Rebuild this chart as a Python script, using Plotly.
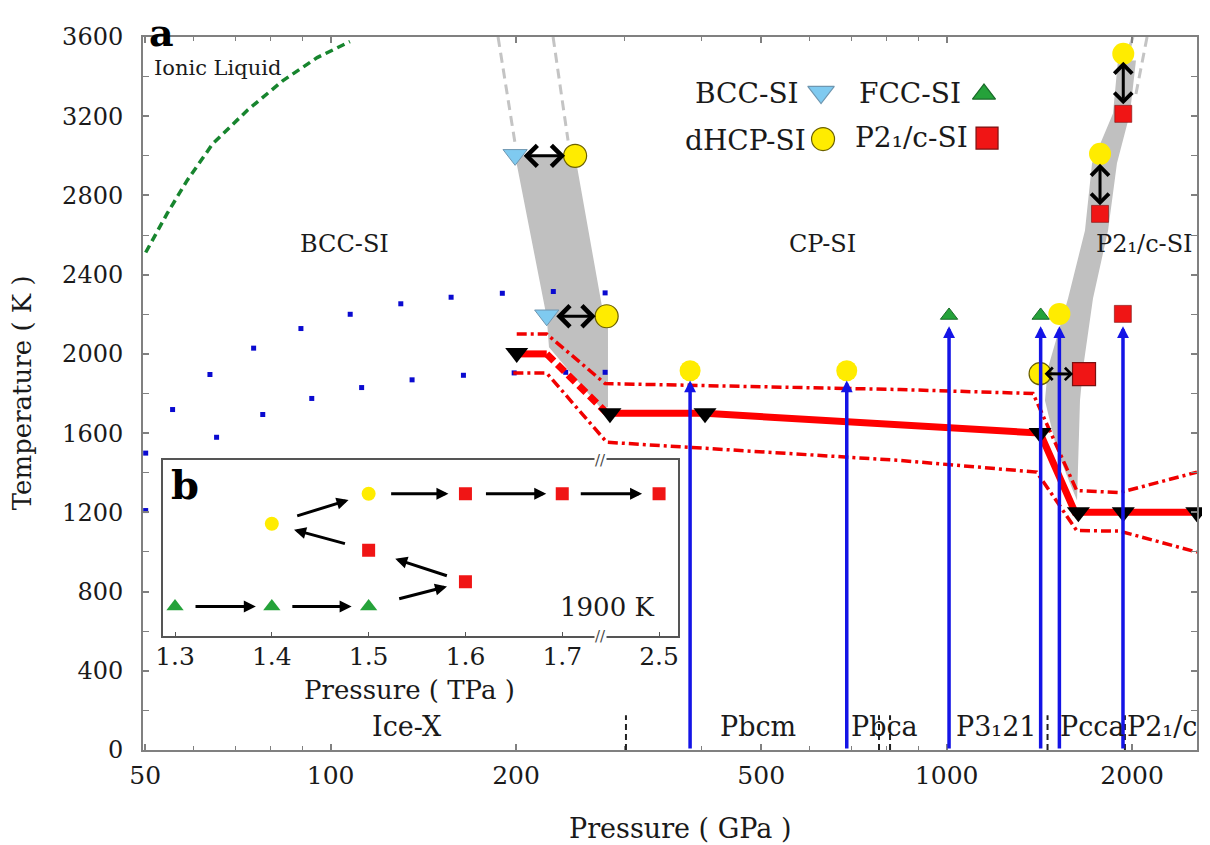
import numpy as np
import plotly.graph_objects as go

FONT = "DejaVu Serif"
TXT = "#1a1a1a"

# ---------------- panel (a) data : pressure (GPa), temperature (K) ----------------
liq_P = [50.1, 54.3, 58.5, 64.4, 73.2, 83.7, 95.1, 107.5]
liq_T = [2512, 2709, 2876, 3062, 3229, 3380, 3496, 3577]

dotsA_P = [50.1, 55.4, 63.7, 75.0, 89.5, 107.6, 130.0, 156.9, 190.0, 229.9, 279.0]
dotsA_T = [1499, 1719, 1896, 2029, 2128, 2200, 2253, 2286, 2306, 2315, 2308]
dotsB_P = [50.1, 65.3, 77.6, 93.2, 112.3, 135.6, 164.3, 198.6, 240.8, 279.0]
dotsB_T = [1209, 1579, 1694, 1775, 1830, 1869, 1892, 1904, 1907, 1907]

band1_P = [199.3, 249.4, 276.8, 282.0, 282.0, 273.7, 226.2, 224.3]
band1_T = [3000, 3000, 2210, 2185, 1731, 1731, 2034, 2185]
band2_P = [2029, 1984, 1890, 1828, 1728, 1665, 1646, 1634, 1628,
           1586, 1511, 1444, 1460, 1574, 1677, 1722, 1862, 1897]
band2_T = [3481, 3214, 2962, 2623, 2280, 1927, 1765, 1411, 1260,
           1346, 1511, 1765, 1927, 2280, 2623, 2962, 3214, 3481]

gdash = [([187.0, 199.3], [3600, 3062]),
         ([229.7, 242.9], [3600, 3077]),
         ([2007, 1941], [3600, 3470]),
         ([2115, 2022], [3600, 3289])]

melt_solidA_P = [200.5, 224.3]
melt_solidA_T = [2000, 2000]
melt_dash_P = [224.3, 281.0]
melt_dash_T = [2000, 1700]
melt_solidB_P = [281.0, 405.3, 1418, 1616, 2549]
melt_solidB_T = [1700, 1700, 1600, 1200, 1200]
upper_P = [200.5, 224.3, 279, 840, 1381, 1626, 1911, 2549]
upper_T = [2100, 2100, 1850, 1820, 1800, 1310, 1300, 1403]
lower_P = [198, 224.3, 280.7, 840, 1400, 1626, 1911, 2549]
lower_T = [1903, 1903, 1554, 1462, 1403, 1108, 1105, 999]

melt_pts_P = [200.5, 284.1, 405.3, 1418, 1636, 1935, 2547]
melt_pts_T = [2005, 1700, 1700, 1600, 1200, 1200, 1200]

bcc_P = [199.3, 224.3]
bcc_T = [3005, 2195]
dhcp_P = [249.4, 280.6, 383.3, 688.4, 1524, 1418, 1935, 1774]
dhcp_T = [3000, 2190, 1915, 1915, 2202, 1900, 3515, 3010]
dhcp_edge = [1.2, 1.2, 0, 0, 0, 1.2, 0, 0]
dhcp_size = [23, 23, 21, 21, 22, 22, 22, 22]
fcc_P = [1009, 1421]
fcc_T = [2194, 2194]
p21c_P = [1935, 1774, 1932, 1671]
p21c_T = [3212, 2707, 2202, 1898]
p21c_size = [17, 17, 17, 23]
p21c_edge = [0.6, 0.6, 0.6, 1.2]

# ground-state arrows from T = 0
gs_P = [383.3, 688.4, 1009, 1421, 1524, 1933]
gs_T = [1866, 1866, 2140, 2140, 2140, 2140]

# double-headed transition arrows: (P_tail, T_tail, P_head, T_head)
dbl = [(199.3, 3000, 249.4, 3000),
       (224.3, 2190, 280.6, 2190),
       (1418, 1900, 1671, 1898),
       (1935, 3212, 1935, 3515),
       (1774, 2707, 1774, 3010)]
dbl_style = [(7, 10, 1.35), (8, 11, 1.35), (3, 11, 0.8), (8, 8, 1.15), (7, 10, 1.15)]

# phase boundaries of ground states (short dashed lines)
gsb_P = [301.6, 776.6, 809.3, 1458, 1947]

regions = [("Ionic Liquid", 51.3, 3441, 21, "left"),
           ("BCC-SI", 105.5, 2557, 24, "center"),
           ("CP-SI", 627.8, 2557, 24, "center"),
           ("P2\u2081/c-SI", 2092, 2557, 24, "center")]
gs_labels = [("Ice-X", 133), ("Pbcm", 494), ("Pbca", 794),
             ("P3\u208121", 1203), ("Pcca", 1728), ("P2\u2081/c", 2236)]
gs_label_T = 119

x_ticks = [50, 100, 200, 500, 1000, 2000]
x_minor = [60, 70, 80, 90, 300, 400, 600, 700, 800, 900]

# ---------------- panel (b) data : 1900 K sequence ----------------
ins_P = ['1.3', '1.4', '1.5', '1.6', '1.7', '2.5']
ins_fcc = (['1.3', '1.4', '1.5'], [0.17, 0.17, 0.17])
ins_dhcp = (['1.4', '1.5'], [0.64, 0.81])
ins_p21c = (['1.5', '1.6', '1.6', '1.7', '2.5'], [0.49, 0.31, 0.81, 0.81, 0.81])
ins_path = [('1.3', 0.17, '1.4', 0.17, 19, 16),
            ('1.4', 0.17, '1.5', 0.17, 19, 17),
            ('1.5', 0.17, '1.6', 0.31, 30, 19),
            ('1.6', 0.31, '1.5', 0.49, 18, 28),
            ('1.5', 0.49, '1.4', 0.64, 23, 23),
            ('1.4', 0.64, '1.5', 0.81, 25, 21),
            ('1.5', 0.81, '1.6', 0.81, 21, 17),
            ('1.6', 0.81, '1.7', 0.81, 19, 16),
            ('1.7', 0.81, '2.5', 0.81, 17, 17)]

C_BLUE_L = '#7fcaf0'
C_YEL = '#ffec00'
C_GRN = '#25a23a'
C_RED = '#f01515'
C_ARROW = '#1414e6'

fig = go.Figure()


def line(P, T, color, width, dash='solid'):
    fig.add_trace(go.Scatter(x=P, y=T, mode='lines', hoverinfo='skip',
                             line=dict(color=color, width=width, dash=dash)))


# gray coexistence bands
for P, T in [(band1_P, band1_T), (band2_P, band2_T)]:
    fig.add_trace(go.Scatter(x=P, y=T, mode='lines', fill='toself', fillcolor='#c0c0c0',
                             line=dict(width=0, color='#c0c0c0'), hoverinfo='skip'))
for P, T in gdash:
    line(P, T, '#c4c4c4', 3, '10px,6px')

line(liq_P, liq_T, '#17852e', 3.5, '8px,5px')

for P, T in [(dotsA_P, dotsA_T), (dotsB_P, dotsB_T)]:
    fig.add_trace(go.Scatter(x=P, y=T, mode='markers', hoverinfo='skip', cliponaxis=False,
                             marker=dict(symbol='square', size=5, color='#0a0ad0', opacity=1)))

line(upper_P, upper_T, '#f00000', 3.5, '10px,4px,3px,4px')
line(lower_P, lower_T, '#f00000', 3.5, '10px,4px,3px,4px')
line(melt_solidA_P, melt_solidA_T, '#ff0000', 7)
line(melt_dash_P, melt_dash_T, '#ff0000', 7, '10px,5px')
line(melt_solidB_P, melt_solidB_T, '#ff0000', 7)

# short dashed ground-state boundaries
for p in gsb_P:
    line([p, p], [0, 175], '#222222', 2, '6px,4px')

fig.add_trace(go.Scatter(x=melt_pts_P, y=melt_pts_T, mode='markers', cliponaxis=False,
                         marker=dict(symbol='triangle-down', size=20, color='black', opacity=1),
                         hoverinfo='skip'))
fig.add_trace(go.Scatter(x=bcc_P, y=bcc_T, mode='markers', cliponaxis=False,
                         marker=dict(symbol='triangle-down', size=21, color=C_BLUE_L, opacity=1,
                                     line=dict(color='#6e96b0', width=1)), hoverinfo='skip'))
fig.add_trace(go.Scatter(x=dhcp_P, y=dhcp_T, mode='markers', cliponaxis=False,
                         marker=dict(symbol='circle', size=dhcp_size, color=C_YEL, opacity=1,
                                     line=dict(color='#6b6000', width=dhcp_edge)),
                         hoverinfo='skip'))
fig.add_trace(go.Scatter(x=fcc_P, y=fcc_T, mode='markers', cliponaxis=False,
                         marker=dict(symbol='triangle-up', size=15, color=C_GRN, opacity=1,
                                     line=dict(color='#1b6b2a', width=1)), hoverinfo='skip'))
fig.add_trace(go.Scatter(x=p21c_P, y=p21c_T, mode='markers', cliponaxis=False,
                         marker=dict(symbol='square', size=p21c_size, color=C_RED, opacity=1,
                                     line=dict(color='#7a1010', width=p21c_edge)),
                         hoverinfo='skip'))

# legend (text left of symbol), on an invisible overlay axis spanning the plot area
leg_names = ['BCC-SI', 'FCC-SI', 'dHCP-SI', 'P2\u2081/c-SI']
leg_sym = ['triangle-down', 'triangle-up', 'circle', 'square']
leg_col = [C_BLUE_L, C_GRN, C_YEL, C_RED]
leg_edge = ['#6e96b0', '#1b6b2a', '#6b6000', '#7a1010']
leg_x = [0.6433, 0.7979, 0.6452, 0.8008]
leg_y = [0.9228, 0.9200, 0.8569, 0.8583]
fig.add_trace(go.Scatter(x=leg_x, y=leg_y, xaxis='x3', yaxis='y3', mode='markers',
                         marker=dict(symbol=leg_sym, size=[23, 20, 23, 22], color=leg_col,
                                     opacity=1, line=dict(color=leg_edge, width=1.2)),
                         hoverinfo='skip'))

# ---- inset (b) ----
idx = {p: i for i, p in enumerate(ins_P)}
for (Ps, L), sym, col, sz in [(ins_fcc, 'triangle-up', C_GRN, 15),
                              (ins_dhcp, 'circle', C_YEL, 14),
                              (ins_p21c, 'square', C_RED, 13)]:
    fig.add_trace(go.Scatter(x=[idx[p] for p in Ps], y=L, xaxis='x2', yaxis='y2', mode='markers',
                             marker=dict(symbol=sym, size=sz, color=col, opacity=1),
                             hoverinfo='skip'))

ann = []
# ground-state arrows
for p, t in zip(gs_P, gs_T):
    ann.append(dict(x=np.log10(p), y=t, ax=np.log10(p), ay=0, xref='x', yref='y',
                    axref='x', ayref='y', showarrow=True, arrowhead=2, arrowsize=0.68,
                    arrowwidth=3.5, arrowcolor=C_ARROW, text=''))
# double-headed arrows
for (p0, t0, p1, t1), (ss, so, sz) in zip(dbl, dbl_style):
    ann.append(dict(x=np.log10(p1), y=t1, ax=np.log10(p0), ay=t0, xref='x', yref='y',
                    axref='x', ayref='y', showarrow=True, arrowhead=4, startarrowhead=4,
                    arrowside='end+start', arrowsize=sz, startarrowsize=sz, arrowwidth=3,
                    arrowcolor='black', standoff=so, startstandoff=ss, text=''))
# region labels
for txt, p, t, fs, anc in regions:
    ann.append(dict(x=np.log10(p), y=t, xref='x', yref='y', text=txt, showarrow=False,
                    xanchor=anc, yanchor='middle', font=dict(size=fs, color=TXT)))
for txt, p in gs_labels:
    ann.append(dict(x=np.log10(p), y=gs_label_T, xref='x', yref='y', text=txt,
                    showarrow=False, xanchor='center', yanchor='middle',
                    font=dict(size=27, color=TXT)))
# legend text
leg_tx = [0.6243, 0.7780, 0.6309, 0.7846]
leg_ty = [0.9214, 0.9214, 0.8554, 0.8596]
for txt, x, y in zip(leg_names, leg_tx, leg_ty):
    ann.append(dict(x=x, y=y, xref='paper', yref='paper', text=txt, showarrow=False,
                    xanchor='right', yanchor='middle', font=dict(size=28, color=TXT)))
# panel letters / axis titles
ann.append(dict(x=0.018, y=1.0407, xref='paper', yref='paper', text='<b>a</b>',
                showarrow=False, xanchor='center', yanchor='top',
                font=dict(size=38, color='black')))
ann.append(dict(x=0.5095, y=-0.110, xref='paper', yref='paper', text='Pressure ( GPa )',
                showarrow=False, xanchor='center', yanchor='middle',
                font=dict(size=27, color=TXT)))
ann.append(dict(x=-0.1148, y=0.5004, xref='paper', yref='paper', text='Temperature ( K )',
                showarrow=False, xanchor='center', yanchor='middle', textangle=-90,
                font=dict(size=26, color=TXT)))
# inset annotations
for p0, l0, p1, l1, ss, so in ins_path:
    ann.append(dict(x=idx[p1], y=l1, ax=idx[p0], ay=l0, xref='x2', yref='y2',
                    axref='x2', ayref='y2', showarrow=True, arrowhead=2, arrowsize=0.8,
                    arrowwidth=3, arrowcolor='black', standoff=so, startstandoff=ss, text=''))
ann.append(dict(x=0.043, y=0.864, xref='x2 domain', yref='y2 domain', text='<b>b</b>',
                showarrow=False, xanchor='center', yanchor='middle',
                font=dict(size=40, color='black')))
ann.append(dict(x=0.956, y=0.166, xref='x2 domain', yref='y2 domain', text='1900 K',
                showarrow=False, xanchor='right', yanchor='middle',
                font=dict(size=26, color=TXT)))
ann.append(dict(x=0.479, y=-0.307, xref='x2 domain', yref='y2 domain',
                text='Pressure ( TPa )', showarrow=False, xanchor='center', yanchor='middle',
                font=dict(size=26, color=TXT)))
for yy in (0, 1):
    ann.append(dict(x=(idx['1.7'] + idx['2.5']) / 2 - 0.1, y=yy, xref='x2', yref='y2 domain',
                    text='//', showarrow=False, xanchor='center', yanchor='middle',
                    bgcolor='white', borderpad=0, font=dict(size=15, color='#444')))

AX = '#808080'
# the page body adds an 8 px offset; figure size/margins compensate so the
# plot area lands at x 143-1197, y 37-750 in the 1210x845 window
fig.update_layout(
    width=1202, height=837,
    margin=dict(l=135, r=13, t=29, b=95),
    paper_bgcolor='white', plot_bgcolor='white',
    showlegend=False,
    font=dict(family=FONT, size=24, color=TXT),
    annotations=ann,
    xaxis=dict(type='log', range=[np.log10(49.6), np.log10(2549)],
               tickvals=x_ticks, ticktext=[str(v) for v in x_ticks],
               ticks='inside', ticklen=6, tickwidth=1.5, tickcolor=AX,
               showline=True, linecolor=AX, linewidth=2, mirror='ticks',
               showgrid=False, zeroline=False, ticklabelstandoff=2,
               tickfont=dict(size=25, color=TXT),
               minor=dict(tickvals=x_minor, ticks='inside', ticklen=4, tickwidth=1.2,
                          tickcolor=AX, showgrid=False)),
    yaxis=dict(range=[0, 3600], tickvals=list(range(0, 3601, 400)),
               ticks='inside', ticklen=6, tickwidth=1.5, tickcolor=AX,
               showline=True, linecolor=AX, linewidth=2, mirror='ticks',
               showgrid=False, zeroline=False, ticklabelstandoff=13,
               tickfont=dict(size=24, color=TXT),
               minor=dict(dtick=200, ticks='inside', ticklen=6, tickwidth=1.2,
                          tickcolor=AX, showgrid=False)),
    xaxis2=dict(domain=[0.0188, 0.508], anchor='y2', range=[-0.126, 5.2],
                tickvals=list(range(len(ins_P))), ticktext=ins_P,
                ticks='inside', ticklen=5, tickcolor='#555', showline=True,
                linecolor='#555', linewidth=1.5, mirror=True, showgrid=False,
                zeroline=False, ticklabelstandoff=-3, tickfont=dict(size=25, color=TXT)),
    yaxis2=dict(domain=[0.1593, 0.4063], anchor='x2', range=[0, 1], showticklabels=False,
                ticks='', showline=True, linecolor='#555', linewidth=1.5, mirror=True,
                showgrid=False, zeroline=False),
    xaxis3=dict(overlaying='x', anchor='y3', range=[0, 1], visible=False),
    yaxis3=dict(overlaying='y', anchor='x3', range=[0, 1], visible=False),
)

fig.write_html("out.html")
